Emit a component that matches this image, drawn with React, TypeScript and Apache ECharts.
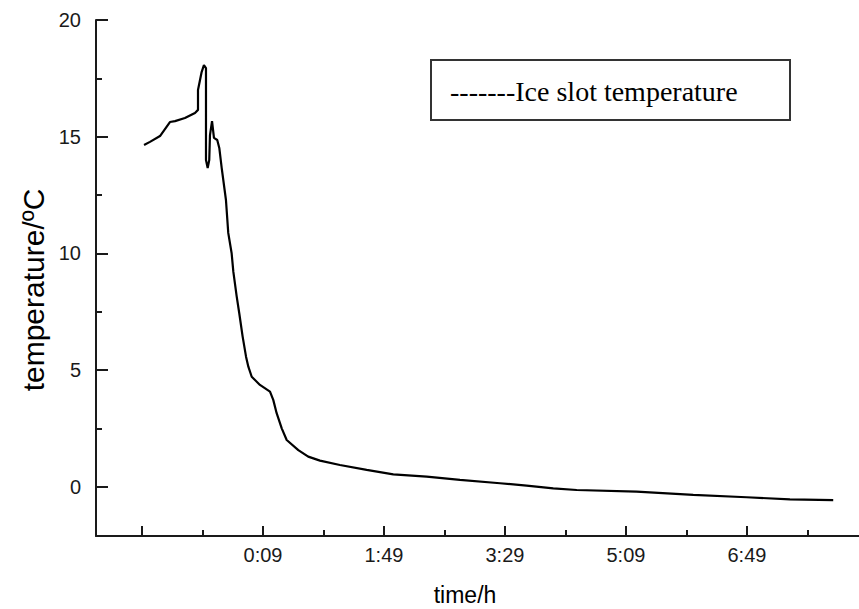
import React, { useEffect, useRef } from "react";
import * as echarts from "echarts";

// time in minutes (label 0:09 = 9 min), temperature in °C
const timeMinutes = [
  -89.3, -84.4, -76.1, -67.9, -63.7, -55.5, -47.2, -44.7, -44.7, -41.7, -39.8, -38.1, -38.1, -36.7,
  -35.4, -34.8, -33.1, -31.5, -28.8, -27.1, -25.1, -21.6, -19.7, -16.9, -15.5, -12.7, -10.6, -7.8,
  -5.0, -3.1, -0.3, 6.5, 14.8, 17.5, 20.3, 24.5, 28.6, 38.2, 46.4, 56.1, 72.6, 94.7, 116.7, 144.3,
  171.8, 204.9, 226.9, 248.9, 268.3, 317.8, 364.6, 408.7, 444.5, 480.3,
];
const temperature = [
  14.65, 14.78, 15.03, 15.63, 15.67, 15.8, 16.02, 16.15, 17.0, 17.77, 18.07, 17.94, 14.0, 13.66,
  14.0, 15.07, 15.67, 14.95, 14.86, 14.52, 13.66, 12.29, 10.88, 10.01, 9.22, 8.15, 7.44, 6.44,
  5.58, 5.15, 4.72, 4.37, 4.08, 3.73, 3.16, 2.51, 2.01, 1.58, 1.3, 1.13, 0.94, 0.73, 0.54, 0.44,
  0.3, 0.16, 0.06, -0.06, -0.13, -0.2, -0.34, -0.44, -0.53, -0.56,
];

const xMajorTicks = [-91, 9, 109, 209, 309, 409];
const xMinorTicks = [-41, 59, 159, 259, 359, 459];
const xLabelValues = [9, 109, 209, 309, 409];
const yMajorTicks = [0, 5, 10, 15, 20];
const yMinorTicks = [2.5, 7.5, 12.5, 17.5];

const legendLabel = "-------Ice slot temperature";
const xName = "time/h";
const yName = "temperature/ºC";

const X_MIN = -129;
const X_MAX = 501.6;
const Y_MIN = -2.1;
const Y_MAX = 20;

const AXIS_COLOR = "#1a1a1a";
const SANS = "'Liberation Sans', Arial, sans-serif";
const SERIF = "'Liberation Serif', 'Times New Roman', serif";

const fmtTime = (v: number) => {
  const m = Math.round(v);
  const h = Math.floor(m / 60);
  const mm = m - h * 60;
  return `${h}:${String(mm).padStart(2, "0")}`;
};

export default function App() {
  const ref = useRef<HTMLDivElement>(null);

  useEffect(() => {
    if (!ref.current) return;
    const chart = echarts.init(ref.current, undefined, { renderer: "svg" });
    const data = timeMinutes.map((t, i) => [t, temperature[i]]);

    const baseX = {
      type: "value" as const,
      min: X_MIN,
      max: X_MAX,
      position: "bottom" as const,
      splitLine: { show: false },
    };
    const baseY = {
      type: "value" as const,
      min: Y_MIN,
      max: Y_MAX,
      position: "left" as const,
      splitLine: { show: false },
    };

    chart.setOption({
      animation: false,
      backgroundColor: "#ffffff",
      grid: { left: 96, right: 0, top: 20, bottom: 73, containLabel: false },
      xAxis: [
        {
          ...baseX,
          axisLine: { show: true, onZero: false, lineStyle: { color: AXIS_COLOR, width: 2 } },
          axisTick: {
            show: true,
            inside: true,
            length: 10,
            customValues: xMajorTicks,
            lineStyle: { color: AXIS_COLOR, width: 2 },
          },
          axisLabel: {
            show: true,
            customValues: xLabelValues,
            formatter: (v: number) => fmtTime(v),
            margin: 9,
            fontSize: 20,
            color: "#1a1a1a",
            fontFamily: SANS,
          },
        },
        {
          ...baseX,
          axisLine: { show: false, onZero: false },
          axisTick: {
            show: true,
            inside: true,
            length: 6,
            customValues: xMinorTicks,
            lineStyle: { color: AXIS_COLOR, width: 2 },
          },
          axisLabel: { show: false },
        },
      ],
      yAxis: [
        {
          ...baseY,
          axisLine: { show: true, onZero: false, lineStyle: { color: AXIS_COLOR, width: 2 } },
          axisTick: {
            show: true,
            inside: true,
            length: 12,
            customValues: yMajorTicks,
            lineStyle: { color: AXIS_COLOR, width: 2 },
          },
          axisLabel: {
            show: true,
            customValues: yMajorTicks,
            margin: 15,
            fontSize: 20,
            color: "#1a1a1a",
            fontFamily: SANS,
          },
        },
        {
          ...baseY,
          axisLine: { show: false, onZero: false },
          axisTick: {
            show: true,
            inside: true,
            length: 6,
            customValues: yMinorTicks,
            lineStyle: { color: AXIS_COLOR, width: 2 },
          },
          axisLabel: { show: false },
        },
      ],
      series: [
        {
          type: "line",
          xAxisIndex: 0,
          yAxisIndex: 0,
          data,
          showSymbol: false,
          symbol: "none",
          smooth: false,
          lineStyle: { color: "#000000", width: 2.2 },
          z: 3,
        },
      ],
      graphic: [
        {
          type: "rect",
          shape: { x: 431, y: 60, width: 359, height: 60 },
          style: { fill: "#ffffff", stroke: "#333333", lineWidth: 2 },
          z: 10,
        },
        {
          type: "text",
          x: 450,
          y: 91,
          style: {
            text: legendLabel,
            fontSize: 28,
            fontFamily: SERIF,
            fill: "#000000",
            verticalAlign: "middle",
            align: "left",
          },
          z: 11,
        },
        {
          type: "text",
          x: 33,
          y: 290,
          rotation: Math.PI / 2,
          style: {
            text: yName,
            fontSize: 30,
            fontFamily: SANS,
            fill: "#000000",
            align: "center",
            verticalAlign: "middle",
          },
        },
        {
          type: "text",
          x: 465,
          y: 595,
          style: {
            text: xName,
            fontSize: 23,
            fontFamily: SANS,
            fill: "#000000",
            align: "center",
            verticalAlign: "middle",
          },
        },
      ],
    });

    return () => chart.dispose();
  }, []);

  return (
    <div
      ref={ref}
      style={{ position: "fixed", left: 0, top: 0, width: 859, height: 609 }}
    />
  );
}
